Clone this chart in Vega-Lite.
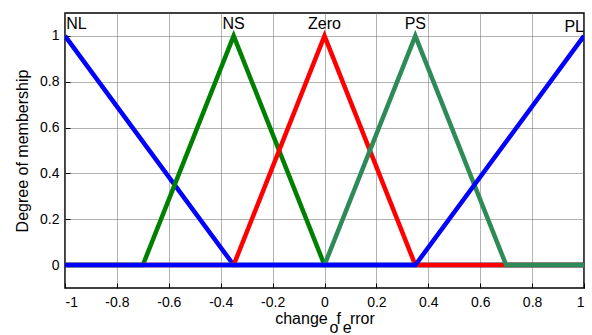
{
  "$schema": "https://vega.github.io/schema/vega-lite/v6.json",
  "width": 519,
  "height": 275,
  "autosize": "none",
  "padding": {"left": 65, "top": 13, "right": 8, "bottom": 47},
  "background": "white",
  "config": {
    "font": "Liberation Sans",
    "view": {"stroke": "black", "strokeWidth": 1.5},
    "axis": {
      "labelFont": "Liberation Sans",
      "titleFont": "Liberation Sans",
      "labelFontSize": 14,
      "titleFontSize": 16,
      "labelColor": "black",
      "titleColor": "black",
      "titleFontWeight": "normal",
      "domain": false,
      "grid": true,
      "gridColor": "#666666",
      "gridDash": [1, 1],
      "gridWidth": 1,
      "tickColor": "black",
      "tickSize": -5
    }
  },
  "datasets": {
    "mf": [
      {"set": "NL", "x": -1, "y": 1},
      {"set": "NL", "x": -0.35, "y": 0},
      {"set": "NL", "x": 1, "y": 0},
      {"set": "NS", "x": -1, "y": 0},
      {"set": "NS", "x": -0.7, "y": 0},
      {"set": "NS", "x": -0.35, "y": 1},
      {"set": "NS", "x": 0, "y": 0},
      {"set": "NS", "x": 1, "y": 0},
      {"set": "Zero", "x": -1, "y": 0},
      {"set": "Zero", "x": -0.35, "y": 0},
      {"set": "Zero", "x": 0, "y": 1},
      {"set": "Zero", "x": 0.35, "y": 0},
      {"set": "Zero", "x": 1, "y": 0},
      {"set": "PS", "x": -1, "y": 0},
      {"set": "PS", "x": 0, "y": 0},
      {"set": "PS", "x": 0.35, "y": 1},
      {"set": "PS", "x": 0.7, "y": 0},
      {"set": "PS", "x": 1, "y": 0},
      {"set": "PL", "x": -1, "y": 0},
      {"set": "PL", "x": 0.35, "y": 0},
      {"set": "PL", "x": 1, "y": 1}
    ],
    "labels": [
      {"name": "NL", "x": -0.995, "y": 1.03, "pos": "left"},
      {"name": "NS", "x": -0.35, "y": 1.03, "pos": "center"},
      {"name": "Zero", "x": 0, "y": 1.03, "pos": "center"},
      {"name": "PS", "x": 0.35, "y": 1.03, "pos": "center"},
      {"name": "PL", "x": 1, "y": 1.015, "pos": "right"}
    ]
  },
  "encoding": {
    "x": {
      "field": "x", "type": "quantitative",
      "scale": {"domain": [-1, 1], "nice": false, "zero": false},
      "axis": {
        "values": [-1, -0.8, -0.6, -0.4, -0.2, 0, 0.2, 0.4, 0.6, 0.8, 1],
        "labelExpr": "'' + datum.value",
        "labelPadding": 12,
        "title": ["change\u00a0\u00a0f\u00a0\u00a0rror", "\u200b\u00a0\u00a0\u00a0\u00a0\u00a0\u00a0\u00a0o\u00a0e"],
        "titleLineHeight": 9,
        "titlePadding": 1
      }
    },
    "y": {
      "field": "y", "type": "quantitative",
      "scale": {"domain": [-0.1, 1.1], "nice": false, "zero": false},
      "axis": {
        "values": [0, 0.2, 0.4, 0.6, 0.8, 1],
        "labelExpr": "'' + datum.value",
        "labelPadding": 11,
        "title": "Degree of membership",
        "titlePadding": 9
      }
    }
  },
  "layer": [
    {
      "data": {"name": "mf"},
      "transform": [{"filter": "datum.set == 'NL'"}],
      "mark": {"type": "line", "strokeWidth": 4.5, "color": "#0000ff", "clip": true},
      "encoding": {}
    },
    {
      "data": {"name": "mf"},
      "transform": [{"filter": "datum.set == 'NS'"}],
      "mark": {"type": "line", "strokeWidth": 4.5, "color": "#008000", "clip": true},
      "encoding": {}
    },
    {
      "data": {"name": "mf"},
      "transform": [{"filter": "datum.set == 'Zero'"}],
      "mark": {"type": "line", "strokeWidth": 4.5, "color": "#ff0000", "clip": true},
      "encoding": {}
    },
    {
      "data": {"name": "mf"},
      "transform": [{"filter": "datum.set == 'PS'"}],
      "mark": {"type": "line", "strokeWidth": 4.5, "color": "#2e8b57", "clip": true},
      "encoding": {}
    },
    {
      "data": {"name": "mf"},
      "transform": [{"filter": "datum.set == 'PL'"}],
      "mark": {"type": "line", "strokeWidth": 4.5, "color": "#0000ff", "clip": true},
      "encoding": {}
    },
    {
      "data": {"name": "labels"},
      "transform": [{"filter": "datum.pos == 'left'"}],
      "mark": {"type": "text", "align": "left", "baseline": "alphabetic", "fontSize": 16, "color": "black"},
      "encoding": {"text": {"field": "name"}}
    },
    {
      "data": {"name": "labels"},
      "transform": [{"filter": "datum.pos == 'center'"}],
      "mark": {"type": "text", "align": "center", "baseline": "alphabetic", "fontSize": 16, "color": "black"},
      "encoding": {"text": {"field": "name"}}
    },
    {
      "data": {"name": "labels"},
      "transform": [{"filter": "datum.pos == 'right'"}],
      "mark": {"type": "text", "align": "right", "baseline": "alphabetic", "fontSize": 16, "color": "black"},
      "encoding": {"text": {"field": "name"}}
    }
  ]
}
